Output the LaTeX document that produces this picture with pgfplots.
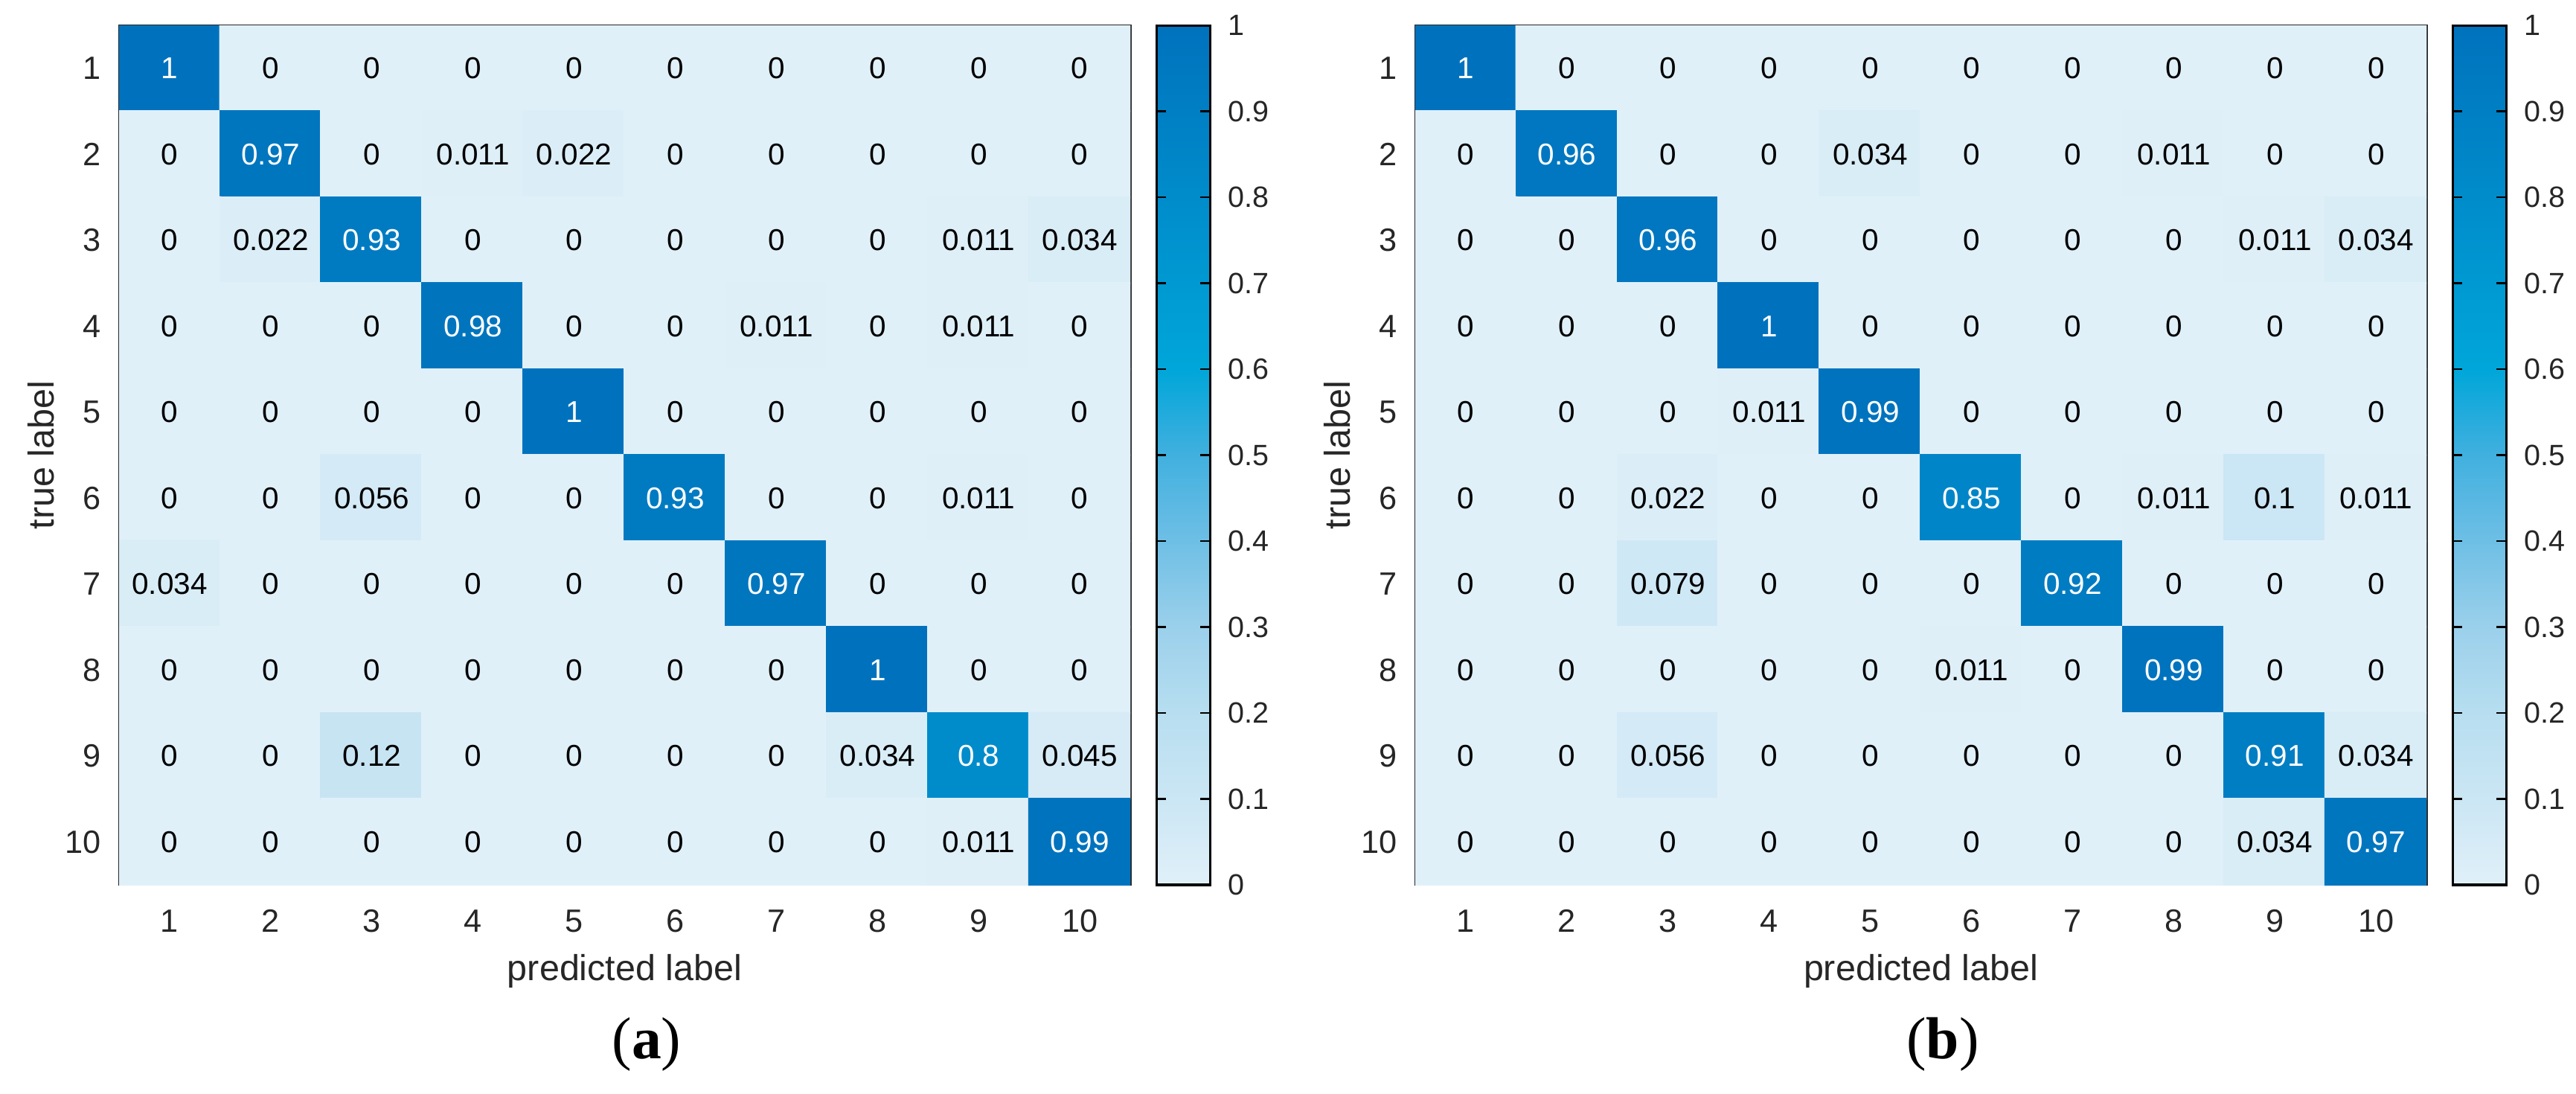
\documentclass[border=0pt]{standalone}
\usepackage{fontspec}
\setmainfont{Liberation Sans}
\newfontfamily\capfont{Liberation Serif}
\usepackage{pgfplots}
\usepackage{pgfplotstable}
\pgfplotsset{compat=1.18}

\definecolor{labgray}{RGB}{38,38,38}

% rows of the matrices: y = true label, x = predicted label
\pgfplotstableread[row sep=\\]{
x y C \\
1 1 1 \\ 2 1 0 \\ 3 1 0 \\ 4 1 0 \\ 5 1 0 \\ 6 1 0 \\ 7 1 0 \\ 8 1 0 \\ 9 1 0 \\ 10 1 0 \\
1 2 0 \\ 2 2 0.97 \\ 3 2 0 \\ 4 2 0.011 \\ 5 2 0.022 \\ 6 2 0 \\ 7 2 0 \\ 8 2 0 \\ 9 2 0 \\ 10 2 0 \\
1 3 0 \\ 2 3 0.022 \\ 3 3 0.93 \\ 4 3 0 \\ 5 3 0 \\ 6 3 0 \\ 7 3 0 \\ 8 3 0 \\ 9 3 0.011 \\ 10 3 0.034 \\
1 4 0 \\ 2 4 0 \\ 3 4 0 \\ 4 4 0.98 \\ 5 4 0 \\ 6 4 0 \\ 7 4 0.011 \\ 8 4 0 \\ 9 4 0.011 \\ 10 4 0 \\
1 5 0 \\ 2 5 0 \\ 3 5 0 \\ 4 5 0 \\ 5 5 1 \\ 6 5 0 \\ 7 5 0 \\ 8 5 0 \\ 9 5 0 \\ 10 5 0 \\
1 6 0 \\ 2 6 0 \\ 3 6 0.056 \\ 4 6 0 \\ 5 6 0 \\ 6 6 0.93 \\ 7 6 0 \\ 8 6 0 \\ 9 6 0.011 \\ 10 6 0 \\
1 7 0.034 \\ 2 7 0 \\ 3 7 0 \\ 4 7 0 \\ 5 7 0 \\ 6 7 0 \\ 7 7 0.97 \\ 8 7 0 \\ 9 7 0 \\ 10 7 0 \\
1 8 0 \\ 2 8 0 \\ 3 8 0 \\ 4 8 0 \\ 5 8 0 \\ 6 8 0 \\ 7 8 0 \\ 8 8 1 \\ 9 8 0 \\ 10 8 0 \\
1 9 0 \\ 2 9 0 \\ 3 9 0.12 \\ 4 9 0 \\ 5 9 0 \\ 6 9 0 \\ 7 9 0 \\ 8 9 0.034 \\ 9 9 0.8 \\ 10 9 0.045 \\
1 10 0 \\ 2 10 0 \\ 3 10 0 \\ 4 10 0 \\ 5 10 0 \\ 6 10 0 \\ 7 10 0 \\ 8 10 0 \\ 9 10 0.011 \\ 10 10 0.99 \\
}\cmA

\pgfplotstableread[row sep=\\]{
x y C \\
1 1 1 \\ 2 1 0 \\ 3 1 0 \\ 4 1 0 \\ 5 1 0 \\ 6 1 0 \\ 7 1 0 \\ 8 1 0 \\ 9 1 0 \\ 10 1 0 \\
1 2 0 \\ 2 2 0.96 \\ 3 2 0 \\ 4 2 0 \\ 5 2 0.034 \\ 6 2 0 \\ 7 2 0 \\ 8 2 0.011 \\ 9 2 0 \\ 10 2 0 \\
1 3 0 \\ 2 3 0 \\ 3 3 0.96 \\ 4 3 0 \\ 5 3 0 \\ 6 3 0 \\ 7 3 0 \\ 8 3 0 \\ 9 3 0.011 \\ 10 3 0.034 \\
1 4 0 \\ 2 4 0 \\ 3 4 0 \\ 4 4 1 \\ 5 4 0 \\ 6 4 0 \\ 7 4 0 \\ 8 4 0 \\ 9 4 0 \\ 10 4 0 \\
1 5 0 \\ 2 5 0 \\ 3 5 0 \\ 4 5 0.011 \\ 5 5 0.99 \\ 6 5 0 \\ 7 5 0 \\ 8 5 0 \\ 9 5 0 \\ 10 5 0 \\
1 6 0 \\ 2 6 0 \\ 3 6 0.022 \\ 4 6 0 \\ 5 6 0 \\ 6 6 0.85 \\ 7 6 0 \\ 8 6 0.011 \\ 9 6 0.1 \\ 10 6 0.011 \\
1 7 0 \\ 2 7 0 \\ 3 7 0.079 \\ 4 7 0 \\ 5 7 0 \\ 6 7 0 \\ 7 7 0.92 \\ 8 7 0 \\ 9 7 0 \\ 10 7 0 \\
1 8 0 \\ 2 8 0 \\ 3 8 0 \\ 4 8 0 \\ 5 8 0 \\ 6 8 0.011 \\ 7 8 0 \\ 8 8 0.99 \\ 9 8 0 \\ 10 8 0 \\
1 9 0 \\ 2 9 0 \\ 3 9 0.056 \\ 4 9 0 \\ 5 9 0 \\ 6 9 0 \\ 7 9 0 \\ 8 9 0 \\ 9 9 0.91 \\ 10 9 0.034 \\
1 10 0 \\ 2 10 0 \\ 3 10 0 \\ 4 10 0 \\ 5 10 0 \\ 6 10 0 \\ 7 10 0 \\ 8 10 0 \\ 9 10 0.034 \\ 10 10 0.97 \\
}\cmB

\pgfplotsset{
  /pgf/number format/assume math mode=true,
  colormap={cmblue}{
    rgb255(0cm)=(224,240,249) rgb255(1cm)=(203,230,244) rgb255(2cm)=(183,222,240)
    rgb255(3cm)=(155,208,235) rgb255(4cm)=(110,191,229) rgb255(5cm)=(65,176,223)
    rgb255(6cm)=(0,166,217) rgb255(7cm)=(0,153,210) rgb255(8cm)=(0,140,203)
    rgb255(9cm)=(0,127,196) rgb255(10cm)=(0,114,189)
  },
  confmat/.style={
    scale only axis, width=196.3pt, height=166.8pt,
    anchor=south west,
    xmin=0.5, xmax=10.5, ymin=0.5, ymax=10.5, y dir=reverse,
    enlargelimits=false,
    xtick={1,...,10}, ytick={1,...,10},
    major tick length=0pt,
    axis line style={labgray, line width=0.4pt},
    tick label style={font=\fontsize{6.25}{7}\selectfont, text=labgray},
    xticklabel style={anchor=base, yshift=-9.1pt},
    label style={font=\fontsize{7}{8}\selectfont, text=labgray},
    xlabel={predicted label}, ylabel={true label},
    xlabel style={at={(axis description cs:0.5,-0.1115)}, anchor=base},
    ylabel style={at={(axis description cs:-0.0775,0.5)}, anchor=center},
    colormap name=cmblue, point meta min=0, point meta max=1,
    colorbar,
    colorbar shift/.style={xshift=5.06pt},
    colorbar style={
      at={(parent axis.north east)}, anchor=north west,
      width=10.4pt,
      ytick={0,0.1,...,1},
      yticklabels={0,0.1,0.2,0.3,0.4,0.5,0.6,0.7,0.8,0.9,1},
      major tick length=1.9pt, tick align=inside,
      yticklabel pos=right,
      tick style={black, line width=0.35pt},
      axis line style={black, line width=0.45pt},
      yticklabel style={font=\fontsize{5.7}{6}\selectfont, text=labgray},
    },
  },
  cells/.style={matrix plot*, mesh/cols=10, point meta=explicit},
  celltext/.style={
    only marks, mark=none, point meta=explicit symbolic,
    nodes near coords={\pgfplotspointmeta},
    every node near coord/.append style={font=\fontsize{5.85}{6}\selectfont,
      anchor=center, inner sep=0pt, text=#1},
  },
}

\begin{document}
\begin{tikzpicture}
\useasboundingbox (0,0) rectangle (500pt,212.16pt);

\begin{axis}[confmat, at={(23.11pt,40.44pt)}]
\addplot[cells] table[meta=C] {\cmA};
\addplot[celltext=black, restrict expr to domain={\thisrow{C}}{0:0.5}] table[meta=C] {\cmA};
\addplot[celltext=white, restrict expr to domain={\thisrow{C}}{0.5:1}] table[meta=C] {\cmA};
\end{axis}
\node[font=\capfont\fontsize{11.5}{12}\selectfont, anchor=base] at (125.5pt,6.79pt) {(\textbf{a})};

\begin{axis}[confmat, at={(274.7pt,40.44pt)}]
\addplot[cells] table[meta=C] {\cmB};
\addplot[celltext=black, restrict expr to domain={\thisrow{C}}{0:0.5}] table[meta=C] {\cmB};
\addplot[celltext=white, restrict expr to domain={\thisrow{C}}{0.5:1}] table[meta=C] {\cmB};
\end{axis}
\node[font=\capfont\fontsize{11.5}{12}\selectfont, anchor=base] at (377.1pt,6.79pt) {(\textbf{b})};
\end{tikzpicture}
\end{document}
